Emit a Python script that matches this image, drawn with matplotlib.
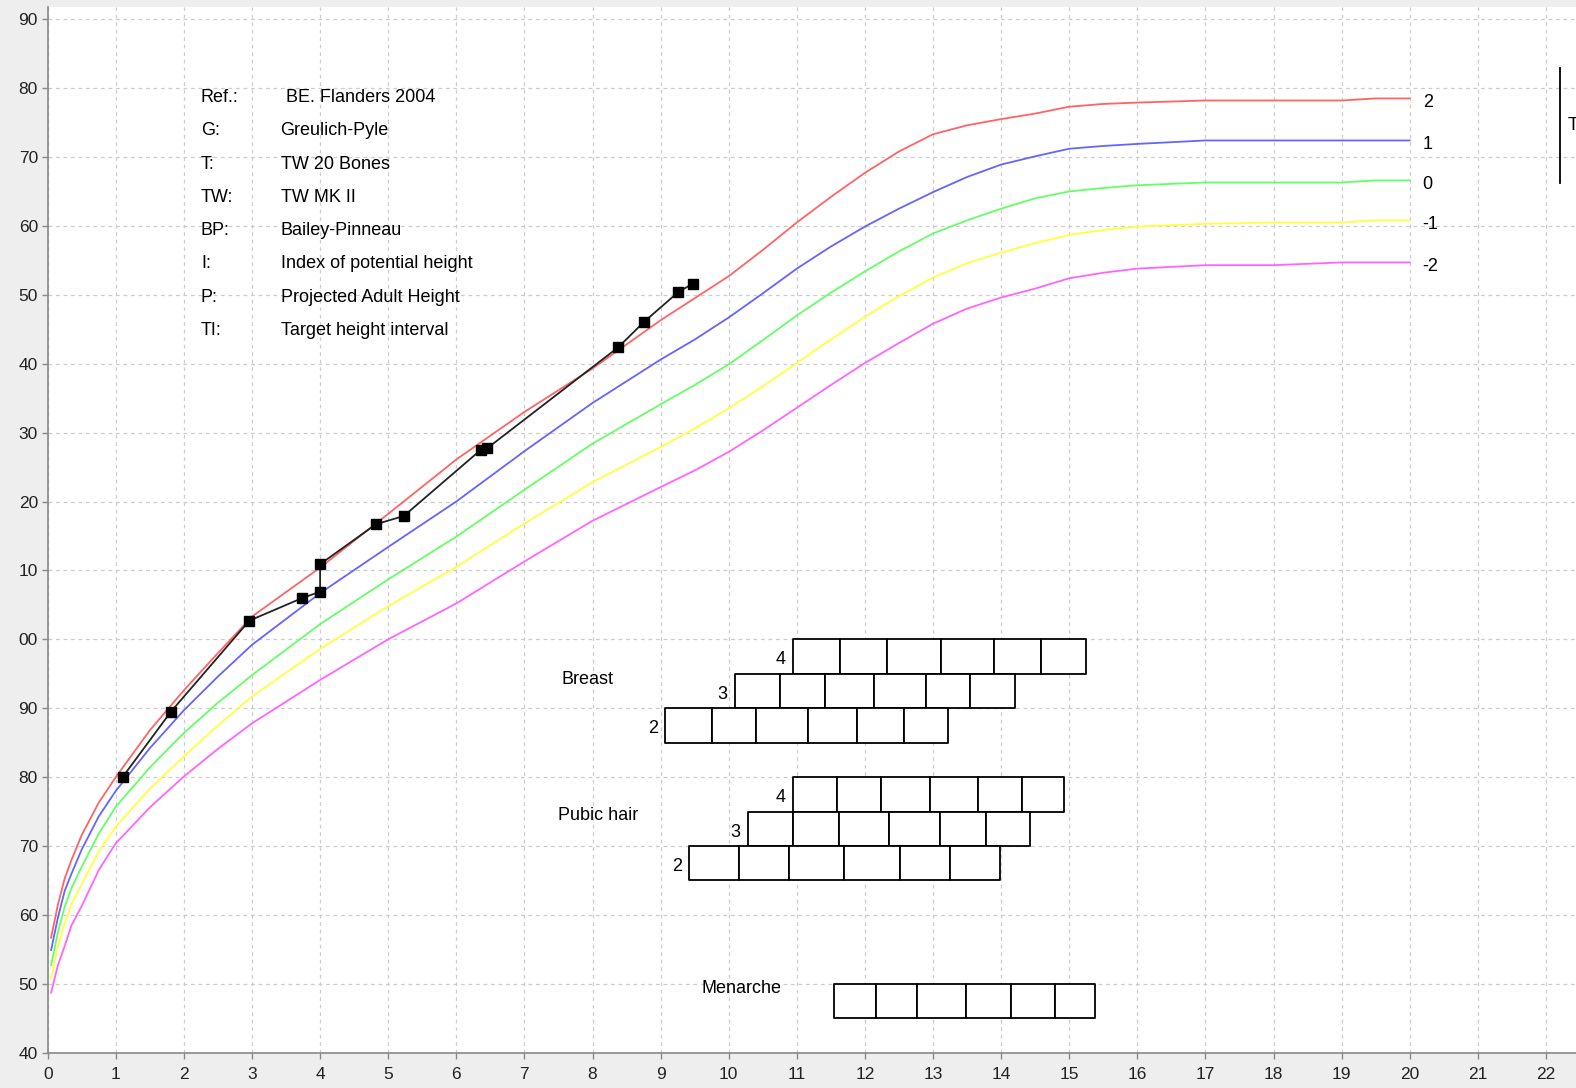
import matplotlib
matplotlib.use("Agg")
import matplotlib.pyplot as plt
from matplotlib.ticker import MultipleLocator, FuncFormatter

plt.rcParams['font.family'] = ['Liberation Sans', 'DejaVu Sans']

# reference curves (height in cm by age in years)
ages = [0.05, 0.15, 0.25, 0.35, 0.5, 0.75, 1, 1.5, 2, 2.5, 3, 4, 5, 6, 7, 8, 9,
        9.5, 10, 10.5, 11, 11.5, 12, 12.5, 13, 13.5, 14, 14.5, 15, 15.5, 16, 17,
        18, 19, 19.5, 20]
sd_plus2 = [56.7, 61.5, 65.3, 68.0, 71.6, 76.3, 80.0, 86.8, 92.6, 98.0, 103.3,
            110.4, 118.2, 126.1, 133.0, 139.3, 146.3, 149.5, 152.7, 156.5, 160.5,
            164.2, 167.7, 170.8, 173.3, 174.6, 175.5, 176.3, 177.3, 177.7, 177.9,
            178.2, 178.2, 178.2, 178.5, 178.5]
sd_plus1 = [54.9, 59.6, 63.5, 66.0, 69.5, 74.3, 78.0, 84.2, 89.7, 94.6, 99.2,
            106.7, 113.4, 120.0, 127.3, 134.3, 140.6, 143.5, 146.7, 150.2, 153.8,
            157.0, 159.9, 162.5, 164.9, 167.1, 168.9, 170.1, 171.2, 171.6, 171.9,
            172.4, 172.4, 172.4, 172.4, 172.4]
sd_zero = [52.7, 57.5, 61.2, 63.9, 67.0, 71.8, 75.7, 81.4, 86.4, 90.8, 94.8,
           102.2, 108.7, 114.9, 121.7, 128.4, 134.1, 136.9, 139.9, 143.4, 147.0,
           150.3, 153.4, 156.3, 158.9, 160.8, 162.5, 164.0, 165.0, 165.5, 165.9,
           166.3, 166.3, 166.3, 166.6, 166.6]
sd_minus1 = [50.8, 55.4, 58.8, 61.6, 64.5, 69.2, 72.8, 78.3, 83.0, 87.5, 91.7,
             98.6, 104.8, 110.5, 116.8, 122.8, 127.9, 130.6, 133.5, 136.7, 140.1,
             143.5, 146.8, 149.8, 152.5, 154.6, 156.1, 157.5, 158.7, 159.4, 159.9,
             160.3, 160.5, 160.5, 160.8, 160.8]
sd_minus2 = [48.7, 52.7, 55.5, 58.5, 61.3, 66.5, 70.4, 75.6, 80.1, 84.1, 87.8,
             94.1, 100.0, 105.2, 111.3, 117.2, 122.1, 124.5, 127.2, 130.3, 133.6,
             136.9, 140.1, 143.0, 145.8, 148.0, 149.6, 150.9, 152.4, 153.2, 153.8,
             154.3, 154.3, 154.7, 154.7, 154.7]
sd_labels = ["2", "1", "0", "-1", "-2"]

# patient measurements
patient_age = [1.10, 1.81, 2.96, 3.74, 4.0, 4.0, 4.82, 5.23, 6.36, 6.45,
               8.38, 8.76, 9.26, 9.47]
patient_height = [80.0, 89.5, 102.7, 106.0, 106.9, 110.9, 116.7, 117.9, 127.5,
                  127.7, 142.4, 146.1, 150.4, 151.6]

ref_keys = ["Ref.:", "G:", "T:", "TW:", "BP:", "I:", "P:", "TI:"]
ref_values = [" BE. Flanders 2004", "Greulich-Pyle", "TW 20 Bones", "TW MK II",
              "Bailey-Pinneau", "Index of potential height",
              "Projected Adult Height", "Target height interval"]

# puberty stage boxes (cell edges in years)
stage_names = ["4", "3", "2"]
breast_edges = [[10.95, 11.63, 12.33, 13.12, 13.90, 14.58, 15.25],
                [10.09, 10.75, 11.41, 12.14, 12.90, 13.55, 14.21],
                [9.07, 9.75, 10.40, 11.16, 11.88, 12.57, 13.22]]
pubic_edges = [[10.95, 11.59, 12.24, 12.95, 13.66, 14.31, 14.93],
               [10.28, 10.95, 11.62, 12.36, 13.10, 13.78, 14.42],
               [9.42, 10.15, 10.88, 11.69, 12.52, 13.25, 13.98]]
menarche_edges = [11.55, 12.16, 12.77, 13.48, 14.15, 14.79, 15.38]
target_interval = [166.2, 182.9]

fig = plt.figure(figsize=(15.76, 10.88), dpi=100, facecolor='#eeeeee')
ax = fig.add_axes([47.7 / 1576, 35.3 / 1088, 1 - 47.7 / 1576, 1045.7 / 1088])
ax.set_facecolor('white')

colors = ['#ff6464', '#6464ff', '#64ff64', '#ffff40', '#ff64ff']
for series, col, lab in zip([sd_plus2, sd_plus1, sd_zero, sd_minus1, sd_minus2],
                            colors, sd_labels):
    ax.plot(ages, series, color=col, lw=1.3, zorder=3)
    ax.text(ages[-1] + 0.19, series[-1] - 0.6, lab, fontsize=13, ha='left',
            va='center')

ax.plot(patient_age, patient_height, color='#222222', lw=1.3, marker='s',
        markersize=6.5, markerfacecolor='black', markeredgecolor='black', zorder=5)

for i, (k, v) in enumerate(zip(ref_keys, ref_values)):
    y = 178.6 - i * 4.82
    ax.text(2.25, y, k, fontsize=13, va='center', ha='left')
    ax.text(3.42, y, v, fontsize=13, va='center', ha='left')


def draw_rows(edges_list, top, names):
    for j, (edges, name) in enumerate(zip(edges_list, names)):
        bottom = top - 5 * (j + 1)
        segs = [(a, b - a) for a, b in zip(edges[:-1], edges[1:])]
        ax.broken_barh(segs, (bottom, 5), facecolors='white', edgecolors='black',
                       linewidth=1.3, zorder=4)
        ax.text(edges[0] - 0.11, bottom + 2.0, name, fontsize=13,
                ha='right', va='center')


draw_rows(breast_edges, 100, stage_names)
draw_rows(pubic_edges, 80, stage_names)
segs = [(a, b - a) for a, b in zip(menarche_edges[:-1], menarche_edges[1:])]
ax.broken_barh(segs, (45, 5), facecolors='white', edgecolors='black',
               linewidth=1.3, zorder=4)
ax.text(7.54, 94.2, "Breast", fontsize=13, ha='left', va='center')
ax.text(7.49, 74.4, "Pubic hair", fontsize=13, ha='left', va='center')
ax.text(9.6, 49.3, "Menarche", fontsize=13, ha='left', va='center')

# target height interval (label runs off the right edge, as in the source)
ax.plot([22.2, 22.2], target_interval, color='black', lw=1.3, clip_on=False)
ax.text(22.32, sum(target_interval) / 2, "TI", fontsize=13, ha='left',
        va='center', clip_on=False)

ax.set_xlim(0, (1576 - 47.7) / 68.1)
ax.set_ylim(40, 40 + 1045.7 / 6.89)
ax.xaxis.set_major_locator(MultipleLocator(1))
ax.yaxis.set_major_locator(MultipleLocator(10))
ax.yaxis.set_major_formatter(FuncFormatter(lambda v, p: f"{int(round(v)) % 100:02d}"))
ax.grid(True, color='#cccccc', linestyle=(0, (3, 3)), linewidth=0.9)
ax.set_axisbelow(True)
for s in ['top', 'right']:
    ax.spines[s].set_visible(False)
for s in ['left', 'bottom']:
    ax.spines[s].set_color('#888888')
    ax.spines[s].set_linewidth(1.2)
ax.tick_params(direction='out', length=4, width=1, color='#888888',
               labelsize=12.5, labelcolor='#222222', pad=3)
ax.tick_params(axis='x', pad=6)

fig.savefig('out.png', dpi=100, facecolor=fig.get_facecolor())
